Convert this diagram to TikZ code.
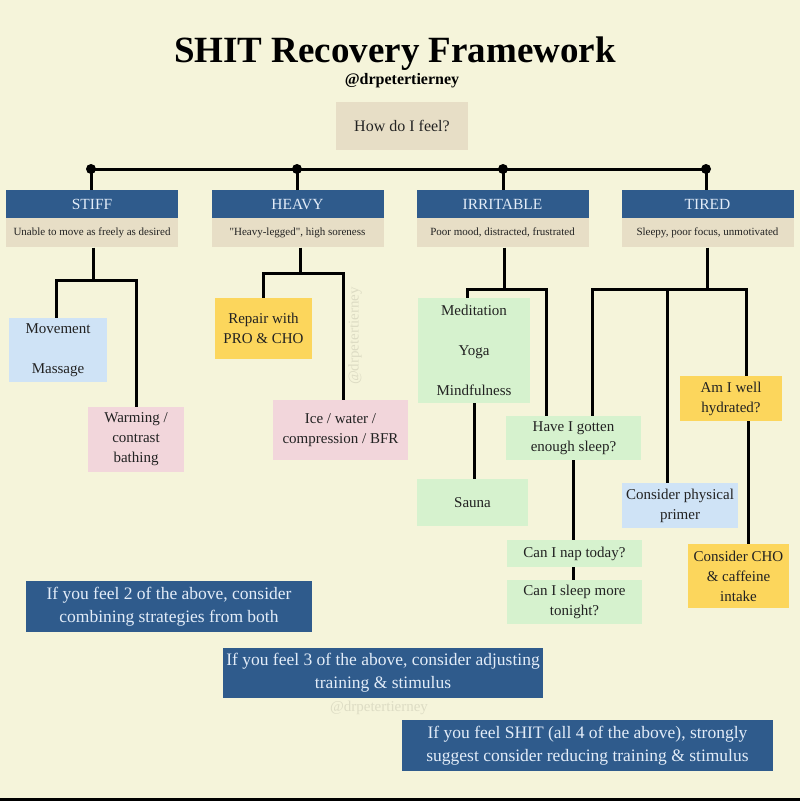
\documentclass[tikz,border=0pt]{standalone}
\usepackage{fontspec}
\setmainfont{Liberation Serif}
\usetikzlibrary{positioning}
\definecolor{bgcream}{HTML}{F5F4DA}
\definecolor{headblue}{HTML}{2F5B8C}
\definecolor{headtext}{HTML}{E2ECF8}
\definecolor{descbeige}{HTML}{E7DEC6}
\definecolor{leafgreen}{HTML}{D6F2CE}
\definecolor{leafyellow}{HTML}{FCD65C}
\definecolor{leafpink}{HTML}{F2D6DB}
\definecolor{leafblue}{HTML}{CFE3F6}
\definecolor{inkdark}{HTML}{222222}
\tikzset{
    box/.style = {
        rectangle,
        align=center,
        inner sep=0pt,
        text=inkdark,
        font=\fontsize{15}{20}\selectfont
    },
    headnode/.style = {
        box,
        fill=headblue,
        text=headtext,
        minimum width=172pt,
        minimum height=28pt,
        font=\fontsize{15.5}{18}\selectfont
    },
    descnode/.style = {
        box,
        fill=descbeige,
        minimum width=172pt,
        minimum height=29pt,
        font=\fontsize{11}{13}\selectfont
    },
    greenbox/.style = {box, fill=leafgreen},
    yellowbox/.style = {box, fill=leafyellow},
    pinkbox/.style = {box, fill=leafpink},
    bluebox/.style = {box, fill=leafblue},
    notebox/.style = {
        box,
        fill=headblue,
        text=headtext,
        font=\fontsize{17.5}{23}\selectfont
    },
    dot/.style = {circle, fill=black, inner sep=0pt, minimum size=10pt},
    link/.style = {draw=black, line width=3pt},
    watermark/.style = {text=bgcream!90!black, font=\fontsize{15}{17}\selectfont}
}
\begin{document}
\begin{tikzpicture}[x=1pt, y=-1pt]
    \fill[bgcream] (0,0) rectangle (800,801);
    \useasboundingbox (0,0) rectangle (800,801);
    \fill[black] (0,798) rectangle (800,801);

    % title
    \node [anchor=base, font=\fontsize{37}{40}\selectfont\bfseries] (title) at (395,62) {SHIT Recovery Framework};
    \node [anchor=base, font=\fontsize{16}{18}\selectfont\bfseries] (handle) at (402,84) {@drpetertierney};
    \node [box, fill=descbeige, minimum width=132pt, minimum height=48pt, font=\fontsize{16}{20}\selectfont] (feel) at (402,126) {How do I feel?};

    % the four states
    \node [dot] (stiffdot) at (91,169) {};
    \node [dot] (heavydot) at (297,169) {};
    \node [dot] (irritdot) at (503,169) {};
    \node [dot] (tireddot) at (706,169) {};
    \draw [link] (stiffdot.center) -- (tireddot.center);

    \node [headnode] (stiff) at (92,204) {STIFF};
    \node [headnode] (heavy) at (297.5,204) {HEAVY};
    \node [headnode] (irritable) at (502.5,204) {IRRITABLE};
    \node [headnode] (tired) at (707.5,204) {TIRED};
    \node [descnode, below=0pt of stiff] (stiffdesc) {Unable to move as freely as desired};
    \node [descnode, below=0pt of heavy] (heavydesc) {\textquotedbl Heavy-legged\textquotedbl, high soreness};
    \node [descnode, below=0pt of irritable] (irritdesc) {Poor mood, distracted, frustrated};
    \node [descnode, below=0pt of tired] (tireddesc) {Sleepy, poor focus, unmotivated};
    \foreach \s/\h in {stiffdot/stiff, heavydot/heavy, irritdot/irritable, tireddot/tired}
        \draw [link] (\s.center) -- (\h.north -| \s.center);

    % strategies
    \node [bluebox, minimum width=98pt, minimum height=64pt, font=\fontsize{15}{40}\selectfont] (movement) at (58,350) {Movement\\Massage};
    \node [pinkbox, minimum width=96pt, minimum height=65pt] (warming) at (136,439.5) {Warming /\\contrast\\bathing};
    \node [yellowbox, minimum width=97pt, minimum height=61pt] (repair) at (263.5,328.5) {Repair with\\PRO \& CHO};
    \node [pinkbox, minimum width=135pt, minimum height=60pt] (ice) at (340.5,430) {Ice / water /\\compression / BFR};
    \node [greenbox, minimum width=112pt, minimum height=105pt, font=\fontsize{15}{40}\selectfont] (meditation) at (474,350.5) {Meditation\\Yoga\\Mindfulness};
    \node [greenbox, minimum width=111pt, minimum height=47pt] (sauna) at (472.5,502.5) {Sauna};
    \node [greenbox, minimum width=135pt, minimum height=44pt] (havesleep) at (573.5,438) {Have I gotten\\enough sleep?};
    \node [greenbox, minimum width=135pt, minimum height=27pt] (nap) at (574.5,553.5) {Can I nap today?};
    \node [greenbox, minimum width=135pt, minimum height=44pt] (sleepmore) at (574.5,602) {Can I sleep more\\tonight?};
    \node [yellowbox, minimum width=102pt, minimum height=45pt] (hydrated) at (731,398.5) {Am I well\\hydrated?};
    \node [bluebox, minimum width=116pt, minimum height=45pt] (physical) at (680,505.5) {Consider physical\\primer};
    \node [yellowbox, minimum width=101pt, minimum height=64pt] (cho) at (738.5,576) {Consider CHO\\\& caffeine\\intake};

    % branches
    \coordinate (stiffj) at (93,280);
    \coordinate (movementj) at (56,280);
    \coordinate (warmingj) at (136,280);
    \draw [link] (stiffdesc.south -| stiffj) -- (stiffj);
    \draw [link] (movement.north -| movementj) -- (movementj) -- (warmingj) -- (warming.north -| warmingj);

    \coordinate (heavyj) at (300,273);
    \coordinate (repairj) at (263,273);
    \coordinate (icej) at (343,273);
    \draw [link] (heavydesc.south -| heavyj) -- (heavyj);
    \draw [link] (repair.north -| repairj) -- (repairj) -- (icej) -- (ice.north -| icej);

    \coordinate (irritj) at (504,289);
    \coordinate (meditationj) at (467,289);
    \coordinate (havesleepj) at (546,289);
    \draw [link] (irritdesc.south -| irritj) -- (irritj);
    \draw [link] (meditation.north -| meditationj) -- (meditationj) -- (havesleepj) -- (havesleep.north -| havesleepj);
    \draw [link] (meditation.south) -- (meditation.south |- sauna.north);

    \coordinate (tiredj) at (707,289);
    \coordinate (tiredsleepj) at (592,289);
    \coordinate (physicalj) at (667,289);
    \coordinate (hydratedj) at (746,289);
    \draw [link] (tireddesc.south -| tiredj) -- (tiredj);
    \draw [link] (havesleep.north -| tiredsleepj) -- (tiredsleepj) -- (hydratedj) -- (hydrated.north -| hydratedj);
    \draw [link] (physicalj) -- (physical.north -| physicalj);

    \coordinate (sleepj) at (573,0);
    \draw [link] (havesleep.south -| sleepj) -- (nap.north -| sleepj);
    \draw [link] (nap.south -| sleepj) -- (sleepmore.north -| sleepj);
    \coordinate (choj) at (748,0);
    \draw [link] (hydrated.south -| choj) -- (cho.north -| choj);

    % notes
    \node [notebox, minimum width=286pt, minimum height=51pt] (combine2) at (169,606.5) {If you feel 2 of the above, consider\\combining strategies from both};
    \node [notebox, minimum width=320pt, minimum height=50pt] (adjust3) at (383,673) {If you feel 3 of the above, consider adjusting\\training \& stimulus};
    \node [notebox, minimum width=371pt, minimum height=51pt] (reduce4) at (587.5,745.5) {If you feel SHIT (all 4 of the above), strongly\\suggest consider reducing training \& stimulus};

    % watermarks
    \node [watermark, rotate=90] (markside) at (355,336) {@drpetertierney};
    \node [watermark] (markfoot) at (379,708) {@drpetertierney};
\end{tikzpicture}
\end{document}
